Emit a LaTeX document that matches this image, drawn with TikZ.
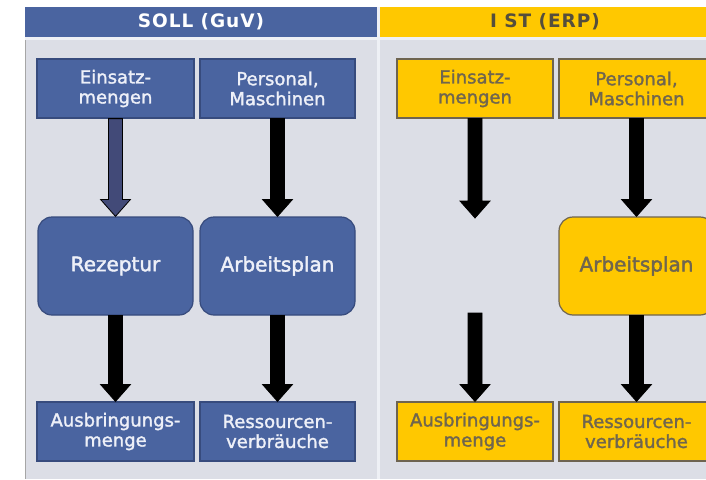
\documentclass[tikz,border=0pt]{standalone}
\usepackage{fontspec}
\setmainfont{DejaVu Sans}
\usetikzlibrary{calc}
\definecolor{bgc}{RGB}{220,222,230}
\definecolor{sollc}{RGB}{74,100,160}
\definecolor{sollb}{RGB}{55,75,125}
\definecolor{istc}{RGB}{255,200,0}
\definecolor{istb}{RGB}{110,100,80}
\definecolor{isttext}{RGB}{112,102,78}
\definecolor{ishead}{RGB}{85,78,60}
\definecolor{solltext}{RGB}{238,240,248}
\definecolor{arrowblue}{RGB}{66,74,120}
\definecolor{sepc}{RGB}{238,240,245}
\tikzset{
  box/.style={rectangle, minimum width=156pt, minimum height=59pt, inner sep=0pt,
    align=center, font=\fontsize{18}{20}\selectfont\addfontfeature{FakeBold=1.6}, line width=1.2pt},
  sollbox/.style={box, fill=sollc, draw=sollb, text=solltext},
  istbox/.style={box, fill=istc, draw=istb, text=isttext},
  midbox/.style={rounded corners=14pt, minimum height=98pt,
    font=\fontsize{20}{22}\selectfont\addfontfeature{FakeBold=2}},
  header/.style={font=\bfseries\fontsize{18.5}{20}\selectfont\addfontfeature{LetterSpace=5}},
}
\newcommand\fatarr[3][black]{%
  \filldraw[draw=black, fill=#1, line width=0.8pt, line join=miter] let \p1=(#2), \p2=(#3) in
  (\x1-7pt,\y1) -- (\x1-7pt,\y2+17pt) -- (\x1-15pt,\y2+17pt) -- (\x1,\y2) --
  (\x1+15pt,\y2+17pt) -- (\x1+7pt,\y2+17pt) -- (\x1+7pt,\y1) -- cycle;}
\begin{document}
\begin{tikzpicture}[x=1pt,y=-1pt]
\useasboundingbox (0,0) rectangle (706,479);
\clip (0,0) rectangle (706,479);
\fill[white] (0,0) rectangle (706,479);
% background
\fill[bgc] (25,7) rectangle (706,479);
\draw[gray!70, line width=0.8pt] (25,37) -- (25,479);
% headers
\fill[sollc] (25,7) rectangle (377,37);
\fill[istc] (379,7) rectangle (706,37);
\fill[sepc] (25,37) rectangle (706,40);
\fill[sepc] (377,7) rectangle (380,479);
\node[header, text=white] (hs) at (201,22) {SOLL (GuV)};
\node[header, text=ishead] (hi) at (545,22) {I ST (ERP)};
% SOLL boxes
\node[sollbox, minimum width=157pt] (se) at (115.5,88.5) {Einsatz-\\mengen};
\node[sollbox, minimum width=155pt] (sp) at (277.5,88.5) {Personal,\\Maschinen};
\node[sollbox, midbox, minimum width=155pt] (sr) at (115.5,266) {Rezeptur};
\node[sollbox, midbox, minimum width=155pt] (sa) at (277.5,266) {Arbeitsplan};
\node[sollbox, minimum width=157pt] (sb) at (115.5,431.5) {Ausbringungs-\\menge};
\node[sollbox, minimum width=155pt] (sv) at (277.5,431.5) {Ressourcen-\\verbräuche};
% IST boxes
\node[istbox] (ie) at (475,88.5) {Einsatz-\\mengen};
\node[istbox, minimum width=155pt] (ip) at (636.5,88.5) {Personal,\\Maschinen};
\node[istbox, midbox, minimum width=155pt] (ia) at (636.5,266) {Arbeitsplan};
\node[istbox] (ib) at (475,431.5) {Ausbringungs-\\menge};
\node[istbox, minimum width=155pt] (iv) at (636.5,431.5) {Ressourcen-\\verbräuche};
\coordinate (g1) at (475,218);
\coordinate (g2) at (475,313);
% arrows
\fatarr[arrowblue]{se.south}{sr.north}
\fatarr{sp.south}{sa.north}
\fatarr{sr.south}{sb.north}
\fatarr{sa.south}{sv.north}
\fatarr{ie.south}{g1}
\fatarr{g2}{ib.north}
\fatarr{ip.south}{ia.north}
\fatarr{ia.south}{iv.north}
\end{tikzpicture}
\end{document}
